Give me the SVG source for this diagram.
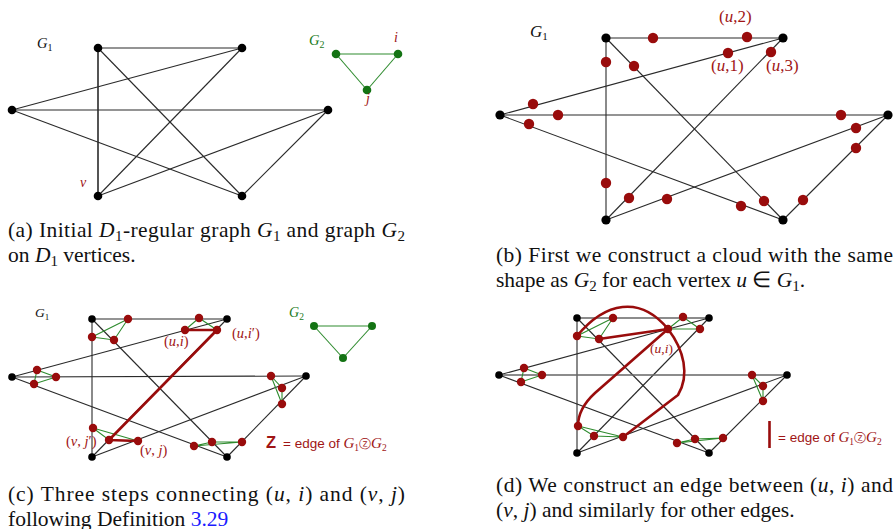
<svg xmlns="http://www.w3.org/2000/svg" width="895" height="529" viewBox="0 0 895 529">
<style>
.bg{fill:#fff}
.e{stroke:#2a2a2a;stroke-width:1.1;fill:none}
.eg{stroke:#666;stroke-width:1.4;fill:none}
.gr{stroke:#2e8b2e;stroke-width:1.1;fill:none}
.rd{stroke:#990c0c;stroke-width:2.6;fill:none;stroke-linecap:round;stroke-linejoin:round}
.bv{fill:#000}
.rv{fill:#990c0c}
.gv{fill:#137313}
.lab{font-family:"Liberation Serif",serif;font-style:italic}
.red{fill:#a01515}
.grn{fill:#1a7a1a}
.cap{font-family:"Liberation Serif",serif;font-size:21.5px;fill:#111}
.it{font-style:italic}
.sans{font-family:"Liberation Sans",Arial,sans-serif}
</style>
<rect class="bg" x="0" y="0" width="895" height="529"/>

<!-- ================= Panel (a) ================= -->
<g id="panel-a">
  <g id="a-connectors">
    <line class="e" x1="98" y1="48" x2="242" y2="48"/>
    <line class="e" x1="98" y1="48" x2="98" y2="196" style="stroke-width:1.6"/>
    <line class="e" x1="98" y1="48" x2="242" y2="196"/>
    <line class="e" x1="242" y1="48" x2="12" y2="110"/>
    <line class="e" x1="242" y1="48" x2="98" y2="196"/>
    <line class="e" x1="12" y1="110" x2="328" y2="110"/>
    <line class="e" x1="12" y1="110" x2="242" y2="196"/>
    <line class="e" x1="328" y1="110" x2="98" y2="196"/>
    <line class="e" x1="328" y1="110" x2="242" y2="196"/>
    <line class="gr" x1="336" y1="54" x2="398" y2="54"/>
    <line class="gr" x1="336" y1="54" x2="367" y2="90"/>
    <line class="gr" x1="398" y1="54" x2="367" y2="90"/>
  </g>
  <g id="a-TL"><circle class="bv" cx="98" cy="48" r="4.3"/></g>
  <g id="a-TR"><circle class="bv" cx="242" cy="48" r="4.3"/></g>
  <g id="a-L"><circle class="bv" cx="12" cy="110" r="4.3"/></g>
  <g id="a-R"><circle class="bv" cx="328" cy="110" r="4.3"/></g>
  <g id="a-BL"><circle class="bv" cx="98" cy="196" r="4.3"/><text class="lab red" x="80" y="187" font-size="14">v</text></g>
  <g id="a-BR"><circle class="bv" cx="242" cy="196" r="4.3"/></g>
  <g id="a-G2-1"><circle class="gv" cx="336" cy="54" r="4.3"/></g>
  <g id="a-G2-i"><circle class="gv" cx="398" cy="54" r="4.3"/><text class="lab red" x="394" y="42" font-size="14">i</text></g>
  <g id="a-G2-j"><circle class="gv" cx="367" cy="90" r="4.3"/><text class="lab red" x="366" y="103" font-size="14">j</text></g>
  <text class="lab" x="37" y="48" font-size="14.5" fill="#111">G<tspan font-size="10" dy="3" font-style="normal">1</tspan></text>
  <text class="lab grn" x="309" y="45" font-size="14.5">G<tspan font-size="10" dy="3" font-style="normal">2</tspan></text>
  <text class="cap" x="8" y="237" textLength="397" lengthAdjust="spacing">(a) Initial <tspan class="it">D</tspan><tspan font-size="15" dy="4">1</tspan><tspan dy="-4">-regular graph </tspan><tspan class="it">G</tspan><tspan font-size="15" dy="4">1</tspan><tspan dy="-4"> and graph </tspan><tspan class="it">G</tspan><tspan font-size="15" dy="4">2</tspan></text>
  <text class="cap" x="8" y="262">on <tspan class="it">D</tspan><tspan font-size="15" dy="4">1</tspan><tspan dy="-4"> vertices.</tspan></text>
</g>

<!-- ================= Panel (b) ================= -->
<g id="panel-b">
  <g id="b-connectors">
    <line class="e" x1="606" y1="38" x2="783" y2="38"/>
    <line class="e" x1="606" y1="38" x2="606" y2="220"/>
    <line class="e" x1="606" y1="38" x2="783" y2="220"/>
    <line class="e" x1="783" y1="38" x2="500" y2="115"/>
    <line class="e" x1="783" y1="38" x2="606" y2="220"/>
    <line class="e" x1="500" y1="115" x2="888" y2="115"/>
    <line class="e" x1="500" y1="115" x2="783" y2="220"/>
    <line class="e" x1="888" y1="115" x2="606" y2="220"/>
    <line class="e" x1="888" y1="115" x2="783" y2="220"/>
  </g>
  <g id="b-TL"><circle class="bv" cx="606" cy="38" r="4.6"/>
    <circle class="rv" cx="653" cy="38" r="5.2"/><circle class="rv" cx="606" cy="62" r="5.2"/><circle class="rv" cx="634" cy="66" r="5.2"/></g>
  <g id="b-TR"><circle class="bv" cx="783" cy="38" r="4.6"/>
    <circle class="rv" cx="747" cy="37" r="5.2"/><circle class="rv" cx="728" cy="53" r="5.2"/><circle class="rv" cx="771" cy="52" r="5.2"/>
    <text class="lab red" x="719" y="22" font-size="17"><tspan font-style="normal">(</tspan>u<tspan font-style="normal">,2)</tspan></text>
    <text class="lab red" x="711" y="71" font-size="17"><tspan font-style="normal">(</tspan>u<tspan font-style="normal">,1)</tspan></text>
    <text class="lab red" x="766" y="71" font-size="17"><tspan font-style="normal">(</tspan>u<tspan font-style="normal">,3)</tspan></text></g>
  <g id="b-L"><circle class="bv" cx="500" cy="115" r="4.6"/>
    <circle class="rv" cx="533" cy="104" r="5.2"/><circle class="rv" cx="558" cy="115" r="5.2"/><circle class="rv" cx="529" cy="124" r="5.2"/></g>
  <g id="b-R"><circle class="bv" cx="888" cy="115" r="4.6"/>
    <circle class="rv" cx="841" cy="115" r="5.2"/><circle class="rv" cx="856" cy="128" r="5.2"/><circle class="rv" cx="856" cy="148" r="5.2"/></g>
  <g id="b-BL"><circle class="bv" cx="606" cy="220" r="4.6"/>
    <circle class="rv" cx="606" cy="183" r="5.2"/><circle class="rv" cx="629" cy="198" r="5.2"/><circle class="rv" cx="667" cy="199" r="5.2"/></g>
  <g id="b-BR"><circle class="bv" cx="783" cy="220" r="4.6"/>
    <circle class="rv" cx="764" cy="201" r="5.2"/><circle class="rv" cx="741" cy="206" r="5.2"/><circle class="rv" cx="803" cy="200" r="5.2"/></g>
  <text class="lab" x="530" y="37" font-size="17" fill="#111">G<tspan font-size="11" dy="3" font-style="normal">1</tspan></text>
  <text class="cap" x="496" y="262" textLength="397" lengthAdjust="spacing">(b) First we construct a cloud with the same</text>
  <text class="cap" x="496" y="287">shape as <tspan class="it">G</tspan><tspan font-size="15" dy="4">2</tspan><tspan dy="-4"> for each vertex </tspan><tspan class="it">u</tspan> ∈ <tspan class="it">G</tspan><tspan font-size="15" dy="4">1</tspan><tspan dy="-4">.</tspan></text>
</g>

<!-- ================= Panel (c) ================= -->
<g id="panel-c">
  <g id="c-connectors">
    <line class="e" x1="92" y1="319" x2="227" y2="319"/>
    <line class="e" x1="92" y1="319" x2="92" y2="457"/>
    <line class="e" x1="92" y1="319" x2="227" y2="457"/>
    <line class="e" x1="227" y1="319" x2="12" y2="377"/>
    <line class="e" x1="227" y1="319" x2="92" y2="457"/>
    <line class="e" x1="12" y1="377" x2="306" y2="376"/>
    <line class="e" x1="12" y1="377" x2="227" y2="457"/>
    <line class="e" x1="306" y1="376" x2="92" y2="457"/>
    <line class="e" x1="306" y1="376" x2="227" y2="457"/>
    <polygon class="gr" points="128,319 92,337 114,340"/>
    <polygon class="gr" points="199,318 185,330 217,330"/>
    <polygon class="gr" points="37,370 56,377 34,384"/>
    <polygon class="gr" points="271,376 282,388 282,404"/>
    <polygon class="gr" points="93,428 109,440 138,441"/>
    <polygon class="gr" points="194,446 212,442 242,442"/>
    <polyline class="rd" points="185,330 217,330 109,440 138,441"/>
    <line class="gr" x1="314" y1="326" x2="372" y2="326"/>
    <line class="gr" x1="314" y1="326" x2="343" y2="358"/>
    <line class="gr" x1="372" y1="326" x2="343" y2="358"/>
  </g>
  <g id="c-TL"><circle class="bv" cx="92" cy="319" r="3.8"/>
    <circle class="rv" cx="128" cy="319" r="4.2"/><circle class="rv" cx="92" cy="337" r="4.2"/><circle class="rv" cx="114" cy="340" r="4.2"/></g>
  <g id="c-TR"><circle class="bv" cx="227" cy="319" r="3.8"/>
    <circle class="rv" cx="199" cy="318" r="4.2"/><circle class="rv" cx="185" cy="330" r="4.2"/><circle class="rv" cx="217" cy="330" r="4.2"/>
    <text class="lab red" x="164" y="346" font-size="14.5"><tspan font-style="normal">(</tspan>u<tspan font-style="normal">,</tspan>i<tspan font-style="normal">)</tspan></text>
    <text class="lab red" x="232" y="338" font-size="14.5"><tspan font-style="normal">(</tspan>u<tspan font-style="normal">,</tspan>i<tspan font-style="normal">′)</tspan></text></g>
  <g id="c-L"><circle class="bv" cx="12" cy="377" r="3.8"/>
    <circle class="rv" cx="37" cy="370" r="4.2"/><circle class="rv" cx="56" cy="377" r="4.2"/><circle class="rv" cx="34" cy="384" r="4.2"/></g>
  <g id="c-R"><circle class="bv" cx="306" cy="376" r="3.8"/>
    <circle class="rv" cx="271" cy="376" r="4.2"/><circle class="rv" cx="282" cy="388" r="4.2"/><circle class="rv" cx="282" cy="404" r="4.2"/></g>
  <g id="c-BL"><circle class="bv" cx="92" cy="457" r="3.8"/>
    <circle class="rv" cx="93" cy="428" r="4.2"/><circle class="rv" cx="109" cy="440" r="4.2"/><circle class="rv" cx="138" cy="441" r="4.2"/>
    <text class="lab red" x="66" y="446" font-size="14.5"><tspan font-style="normal">(</tspan>v<tspan font-style="normal">, </tspan>j<tspan font-style="normal">′)</tspan></text>
    <text class="lab red" x="140" y="455" font-size="14.5"><tspan font-style="normal">(</tspan>v<tspan font-style="normal">, </tspan>j<tspan font-style="normal">)</tspan></text></g>
  <g id="c-BR"><circle class="bv" cx="227" cy="457" r="3.8"/>
    <circle class="rv" cx="194" cy="446" r="4.2"/><circle class="rv" cx="212" cy="442" r="4.2"/><circle class="rv" cx="242" cy="442" r="4.2"/></g>
  <g id="c-G2-a"><circle class="gv" cx="314" cy="326" r="4"/></g>
  <g id="c-G2-b"><circle class="gv" cx="372" cy="326" r="4"/></g>
  <g id="c-G2-c"><circle class="gv" cx="343" cy="358" r="4"/></g>
  <text class="lab" x="35" y="317" font-size="13.5" fill="#111">G<tspan font-size="9" dy="3" font-style="normal">1</tspan></text>
  <text class="lab grn" x="289" y="317" font-size="14">G<tspan font-size="9.5" dy="3" font-style="normal">2</tspan></text>
  <g id="c-legend">
    <text class="sans red" x="266" y="448" font-size="16.5" font-weight="bold">Z</text>
    <text class="sans red" x="283" y="448" font-size="13.5">= edge of <tspan class="lab" font-size="15">G</tspan><tspan font-size="9.5" dy="3" font-family="Liberation Serif,serif">1</tspan><tspan dy="-3" font-family="DejaVu Sans,sans-serif" font-size="12">ⓩ</tspan><tspan class="lab" font-size="15">G</tspan><tspan font-size="9.5" dy="3" font-family="Liberation Serif,serif">2</tspan></text>
  </g>
  <text class="cap" x="8" y="501" textLength="397" lengthAdjust="spacing">(c) Three steps connecting (<tspan class="it">u</tspan>, <tspan class="it">i</tspan>) and (<tspan class="it">v</tspan>, <tspan class="it">j</tspan>)</text>
  <text class="cap" x="8" y="526">following Definition <tspan fill="#1a1aff">3.29</tspan></text>
</g>

<!-- ================= Panel (d) ================= -->
<g id="panel-d">
  <g id="d-connectors">
    <line class="eg" x1="577" y1="318" x2="709" y2="318"/>
    <line class="e" x1="577" y1="318" x2="577" y2="453"/>
    <line class="e" x1="577" y1="318" x2="709" y2="453"/>
    <line class="e" x1="709" y1="318" x2="499" y2="375"/>
    <line class="e" x1="709" y1="318" x2="577" y2="453"/>
    <line class="eg" x1="499" y1="375" x2="787" y2="375"/>
    <line class="e" x1="499" y1="375" x2="709" y2="453"/>
    <line class="e" x1="787" y1="375" x2="577" y2="453"/>
    <line class="e" x1="787" y1="375" x2="709" y2="453"/>
    <polygon class="gr" points="613,318 577,336 599,339"/>
    <polygon class="gr" points="683,317 668,329 700,329"/>
    <polygon class="gr" points="524,368 542,375 521,382"/>
    <polygon class="gr" points="752,375 763,386 763,401"/>
    <polygon class="gr" points="578,426 594,436 623,437"/>
    <polygon class="gr" points="677,443 695,439 723,438"/>
    <path class="rd" d="M599,339 L668,329"/>
    <path class="rd" d="M577,336 C605,302 640,295 668,329"/>
    <path class="rd" d="M668,329 L595,393 C583,404 578,415 578,426"/>
    <path class="rd" d="M668,329 C684,350 690,375 678,395 L623,437"/>
  </g>
  <g id="d-TL"><circle class="bv" cx="577" cy="318" r="3.8"/>
    <circle class="rv" cx="613" cy="318" r="4.2"/><circle class="rv" cx="577" cy="336" r="4.2"/><circle class="rv" cx="599" cy="339" r="4.2"/></g>
  <g id="d-TR"><circle class="bv" cx="709" cy="318" r="3.8"/>
    <circle class="rv" cx="683" cy="317" r="4.2"/><circle class="rv" cx="668" cy="329" r="4.2"/><circle class="rv" cx="700" cy="329" r="4.2"/>
    <text class="lab red" x="650" y="353" font-size="13.5"><tspan font-style="normal">(</tspan>u<tspan font-style="normal">,</tspan>i<tspan font-style="normal">)</tspan></text></g>
  <g id="d-L"><circle class="bv" cx="499" cy="375" r="3.8"/>
    <circle class="rv" cx="524" cy="368" r="4.2"/><circle class="rv" cx="542" cy="375" r="4.2"/><circle class="rv" cx="521" cy="382" r="4.2"/></g>
  <g id="d-R"><circle class="bv" cx="787" cy="375" r="3.8"/>
    <circle class="rv" cx="752" cy="375" r="4.2"/><circle class="rv" cx="763" cy="386" r="4.2"/><circle class="rv" cx="763" cy="401" r="4.2"/></g>
  <g id="d-BL"><circle class="bv" cx="577" cy="453" r="3.8"/>
    <circle class="rv" cx="578" cy="426" r="4.2"/><circle class="rv" cx="594" cy="436" r="4.2"/><circle class="rv" cx="623" cy="437" r="4.2"/></g>
  <g id="d-BR"><circle class="bv" cx="709" cy="453" r="3.8"/>
    <circle class="rv" cx="677" cy="443" r="4.2"/><circle class="rv" cx="695" cy="439" r="4.2"/><circle class="rv" cx="723" cy="438" r="4.2"/></g>
  <g id="d-legend">
    <line x1="769.5" y1="421" x2="769.5" y2="448" stroke="#990c0c" stroke-width="2.6"/>
    <text class="sans red" x="778" y="442" font-size="13.5">= edge of <tspan class="lab" font-size="15">G</tspan><tspan font-size="9.5" dy="3" font-family="Liberation Serif,serif">1</tspan><tspan dy="-3" font-family="DejaVu Sans,sans-serif" font-size="12">ⓩ</tspan><tspan class="lab" font-size="15">G</tspan><tspan font-size="9.5" dy="3" font-family="Liberation Serif,serif">2</tspan></text>
  </g>
  <text class="cap" x="496" y="492" textLength="397" lengthAdjust="spacing">(d) We construct an edge between (<tspan class="it">u</tspan>, <tspan class="it">i</tspan>) and</text>
  <text class="cap" x="496" y="517">(<tspan class="it">v</tspan>, <tspan class="it">j</tspan>) and similarly for other edges.</text>
</g>
</svg>
